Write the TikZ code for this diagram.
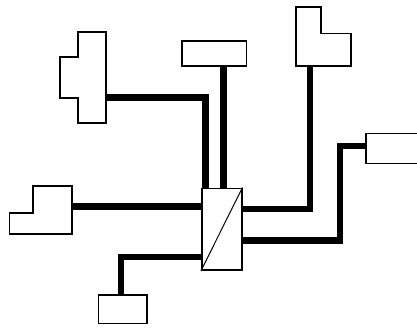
\documentclass[tikz,border=0pt]{standalone}
\usepackage{tikz}
\usetikzlibrary{positioning,calc}
\definecolor{ink}{HTML}{000000}
\tikzset{
  unit/.style={draw=ink, fill=white, line width=1.6pt, inner sep=0pt},
  outline/.style={draw=ink, fill=white, line width=1.6pt, line join=miter},
  bus/.style={draw=ink, line width=6.5pt, line join=miter},
  splitline/.style={draw=ink, line width=1pt},
}
\begin{document}
\begin{tikzpicture}[x=1pt,y=-1pt]
\useasboundingbox (0,0) rectangle (417,327);
\clip (0,0) rectangle (417,327);
% central coupler
\node[unit, minimum width=40pt, minimum height=81.7pt] (coupler) at (221.7,229.2) {};
\draw[splitline] (coupler.south west) -- (coupler.north east);
% rectangular units
\node[unit, minimum width=64.7pt, minimum height=25pt] (topbox) at (214.3,53.2) {};
\node[unit, minimum width=59pt, minimum height=30pt] (rightbox) at (395.5,148.3) {};
\node[unit, minimum width=48.7pt, minimum height=28.3pt] (lowbox) at (122.7,309.2) {};
% cross-shaped unit
\draw[outline] (78,32) -- (106,32) -- (106,123) -- (78,123) -- (78,98) -- (60,98) -- (60,57) -- (78,57) -- cycle;
\coordinate (crossport) at (106,97.7);
% L-shaped unit, top right
\draw[outline] (296,6.7) -- (321,6.7) -- (321,33.3) -- (351,33.3) -- (351,65.7) -- (296,65.7) -- cycle;
\coordinate (ellport) at (310,65.7);
% L-shaped unit, left
\draw[outline] (32.7,185.7) -- (71.7,185.7) -- (71.7,234) -- (9.3,234) -- (9.3,212.7) -- (32.7,212.7) -- cycle;
\coordinate (leftport) at (71.7,206.7);
% bends
\coordinate (ellin) at (241.7,209);
\coordinate (rightbend) at (340,146);
\coordinate (rightin) at (241.7,240.5);
\coordinate (lowout) at (201.7,257);
\coordinate (lowbend) at (121,257);
% buses
\draw[bus] (crossport) -| ([xshift=4.8pt]coupler.north west);
\draw[bus] ([xshift=9.1pt]topbox.south) -- ([xshift=9.1pt]topbox.south |- coupler.north);
\draw[bus] (ellport) |- (ellin);
\draw[bus] (rightbox.west |- rightbend) -- (rightbend) |- (rightin);
\draw[bus] (leftport) -- (coupler.west |- leftport);
\draw[bus] (lowout) -- (lowbend) -- (lowbend |- lowbox.north);
\end{tikzpicture}
\end{document}
